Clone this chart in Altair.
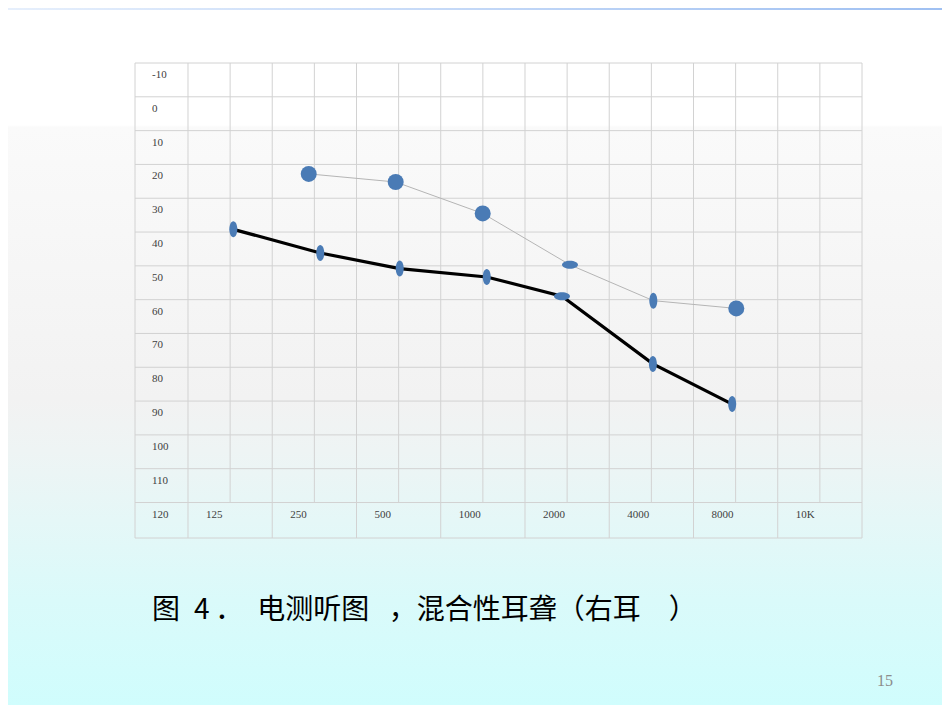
import altair as alt
import pandas as pd

# ---------------- data ----------------
freq_labels = ["125", "250", "500", "1000", "2000", "4000", "8000", "10K"]
freq_pos = [0, 1, 2, 3, 4, 5, 6, 7]
db_labels = [-10, 0, 10, 20, 30, 40, 50, 60, 70, 80, 90, 100, 110, 120]

# thin grey series (large round markers)
gray_x = [0.933, 1.965, 2.998, 4.034, 5.023, 6.008]
gray_db = [22.8, 25.2, 34.5, 49.7, 60.3, 62.6]
gray_marker = ["round", "round", "round", "wide", "tall", "round"]

# thick black series (oval markers)
black_x = [0.038, 1.07, 2.013, 3.046, 3.939, 5.018, 5.959]
black_db = [39.2, 46.2, 50.8, 53.3, 59.0, 79.0, 90.9]
black_marker = ["tall", "tall", "tall", "tall", "wide", "tall", "tall"]

title_text = "图\u20024\u2009．\u2002电测听图\u2002\u2009，混合性耳聋（右耳\u3000）"
page_no = "15"

# ---------------- layout ----------------
W, H = 727, 475
PAD = {"left": 127, "top": 55, "right": 80, "bottom": 167}
X0, X1 = -1.129, 7.5
Y0, Y1 = -10, 130.5

xscale = alt.Scale(domain=[X0, X1], nice=False, zero=False)
yscale = alt.Scale(domain=[Y0, Y1], nice=False, zero=False, reverse=True)

GRID = "#d2d2d2"
BLUE = "#4a7bb5"

one = pd.DataFrame({"a": [0]})

# background gradient for the slide
bg = alt.Chart(one).mark_rect(
    fill=alt.Gradient(
        gradient="linear", x1=0, x2=0, y1=0, y2=1,
        stops=[
            alt.GradientStop(offset=0.0, color="#ffffff"),
            alt.GradientStop(offset=0.168, color="#ffffff"),
            alt.GradientStop(offset=0.171, color="#fafafa"),
            alt.GradientStop(offset=0.42, color="#f5f5f5"),
            alt.GradientStop(offset=0.56, color="#f2f2f2"),
            alt.GradientStop(offset=0.635, color="#eef4f4"),
            alt.GradientStop(offset=0.735, color="#e5f7f7"),
            alt.GradientStop(offset=0.85, color="#dafafa"),
            alt.GradientStop(offset=1.0, color="#d0fdfd"),
        ],
    )
).encode(x=alt.value(-PAD["left"]), x2=alt.value(W + PAD["right"]),
         y=alt.value(-PAD["top"]), y2=alt.value(H + PAD["bottom"]))

band = alt.Chart(one).mark_rect(
    fill=alt.Gradient(
        gradient="linear", x1=0, x2=1, y1=0, y2=0,
        stops=[
            alt.GradientStop(offset=0.0, color="#e6effc"),
            alt.GradientStop(offset=1.0, color="#9fc0f2"),
        ],
    )
).encode(x=alt.value(-PAD["left"]), x2=alt.value(W + PAD["right"]),
         y=alt.value(-PAD["top"]), y2=alt.value(-PAD["top"] + 2))

# grid
h_lines = pd.DataFrame({"db": db_labels + [Y1]})
hgrid = alt.Chart(h_lines).mark_rule(color=GRID, strokeWidth=1).encode(
    y=alt.Y("db:Q", scale=yscale, axis=None))

v_major = pd.DataFrame({"pos": [X0] + [p - 0.5 for p in freq_pos] + [X1]})
vmajor = alt.Chart(v_major).mark_rule(color=GRID, strokeWidth=1).encode(
    x=alt.X("pos:Q", scale=xscale, axis=None))

v_minor = pd.DataFrame({"pos": freq_pos, "top": [Y0] * len(freq_pos), "bot": [120] * len(freq_pos)})
vminor = alt.Chart(v_minor).mark_rule(color=GRID, strokeWidth=1).encode(
    x=alt.X("pos:Q", scale=xscale, axis=None),
    y=alt.Y("top:Q", scale=yscale, axis=None), y2="bot:Q")

# labels
ylab = alt.Chart(pd.DataFrame({"db": db_labels, "t": [str(v) for v in db_labels]})).mark_text(
    align="left", baseline="middle", font="Liberation Serif", fontSize=11, color="#404040", dy=12
).encode(x=alt.value(17), y=alt.Y("db:Q", scale=yscale, axis=None), text="t:N")

flab = alt.Chart(pd.DataFrame({"pos": [p - 0.5 for p in freq_pos], "t": freq_labels,
                               "db": [120] * len(freq_pos)})).mark_text(
    align="left", baseline="middle", font="Liberation Serif", fontSize=11, color="#404040", dx=18, dy=12
).encode(x=alt.X("pos:Q", scale=xscale, axis=None), y=alt.Y("db:Q", scale=yscale, axis=None), text="t:N")

# series
gray_df = pd.DataFrame({"f": gray_x, "db": gray_db, "marker": gray_marker, "order": range(len(gray_x))})
black_df = pd.DataFrame({"f": black_x, "db": black_db, "marker": black_marker, "order": range(len(black_x))})

gray_line = alt.Chart(gray_df).mark_line(color="#b5b5b5", strokeWidth=1).encode(
    x=alt.X("f:Q", scale=xscale, axis=None), y=alt.Y("db:Q", scale=yscale, axis=None), order="order:Q")
black_line = alt.Chart(black_df).mark_line(color="#000000", strokeWidth=3.2).encode(
    x=alt.X("f:Q", scale=xscale, axis=None), y=alt.Y("db:Q", scale=yscale, axis=None), order="order:Q")

k = 0.5523
tall = (f"M0,-1C{0.5*k:.4f},-1,0.5,{-k:.4f},0.5,0C0.5,{k:.4f},{0.5*k:.4f},1,0,1"
        f"C{-0.5*k:.4f},1,-0.5,{k:.4f},-0.5,0C-0.5,{-k:.4f},{-0.5*k:.4f},-1,0,-1Z")
wide = (f"M-1,0C-1,{-0.5*k:.4f},{-k:.4f},-0.5,0,-0.5C{k:.4f},-0.5,1,{-0.5*k:.4f},1,0"
        f"C1,{0.5*k:.4f},{k:.4f},0.5,0,0.5C{-k:.4f},0.5,-1,{0.5*k:.4f},-1,0Z")
shape_scale = alt.Scale(domain=["round", "tall", "wide"], range=["circle", tall, wide])

pts_df = pd.concat([black_df, gray_df], ignore_index=True)
pts = alt.Chart(pts_df).mark_point(filled=True, opacity=1, size=256, color=BLUE, strokeWidth=0).encode(
    x=alt.X("f:Q", scale=xscale, axis=None), y=alt.Y("db:Q", scale=yscale, axis=None),
    shape=alt.Shape("marker:N", scale=shape_scale, legend=None))

title = alt.Chart(one).mark_text(
    align="left", baseline="middle", font="Noto Sans CJK SC", fontSize=28, color="#000000"
).encode(x=alt.value(17), y=alt.value(548), text=alt.value(title_text))

pnum = alt.Chart(one).mark_text(
    align="left", baseline="middle", font="Liberation Serif", fontSize=16, color="#8c8c8c"
).encode(x=alt.value(742), y=alt.value(618), text=alt.value(page_no))

chart = alt.layer(bg, band, hgrid, vmajor, vminor, ylab, flab, gray_line, black_line, pts, title, pnum).properties(
    width=W, height=H, padding=PAD, autosize=alt.AutoSizeParams(type="none"), background="white"
).configure_view(strokeWidth=0)

chart.save("out.html", embed_options={"renderer": "svg", "actions": False})
